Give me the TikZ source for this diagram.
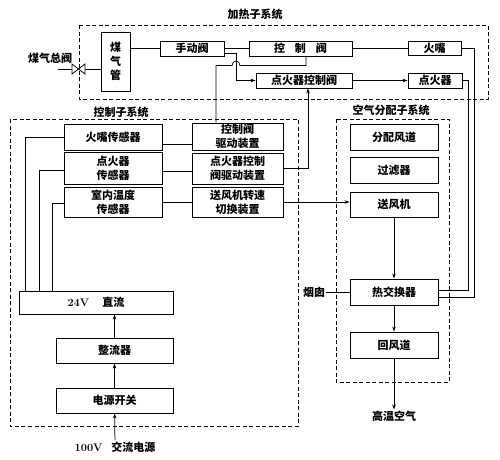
\documentclass[tikz,border=0pt]{standalone}
\usepackage{fontspec}
\newfontfamily\cjk{Noto Sans CJK SC}
\usetikzlibrary{arrows.meta}

\begin{document}
\begin{tikzpicture}[x=1pt,y=-1pt,
	box/.style={draw,line width=0.9pt,inner sep=0pt,align=center,font=\cjk\bfseries\fontsize{11}{14}\selectfont},
	lbl/.style={inner sep=1pt,font=\cjk\bfseries\fontsize{11}{13}\selectfont},
	grp/.style={draw,line width=0.9pt,dash pattern=on 4pt off 2.5pt},
	wire/.style={line width=0.75pt},
	arr/.style={wire,-{Stealth[length=5pt,width=3.5pt]}}]
	\useasboundingbox (0,0) rectangle (500,459);
	% subsystem frames
	\draw[grp] (79,25) rectangle (488,99);
	\draw[grp] (10,119) rectangle (298,426);
	\draw[grp] (336,119) rectangle (449,382);
	\node[lbl] (theat) at (255,14) {加热子系统};
	\node[lbl] (tctrl) at (121,112) {控制子系统};
	\node[lbl] (tair) at (391,110) {空气分配子系统};
	% heating
	\node[box,minimum width=29pt,minimum height=59pt] (gaspipe) at (115.5,61.5) {煤\\气\\管};
	\node[box,minimum width=64pt,minimum height=15pt] (manualv) at (192,48.5) {手动阀};
	\node[box,minimum width=103pt,minimum height=15pt] (ctrlv) at (300.5,48.5) {控\hspace{0.9em}制\hspace{0.9em}阀};
	\node[box,minimum width=53pt,minimum height=14pt] (nozzle) at (434.5,48.5) {火嘴};
	\node[box,minimum width=96pt,minimum height=15pt] (ignv) at (304,80.5) {点火器控制阀};
	\node[box,minimum width=54pt,minimum height=15pt] (igniter) at (435,80.5) {点火器};
	\node[lbl] (mainv) at (50,58) {煤气总阀};
	\coordinate (gasin) at (58,69);
	% control
	\node[box,minimum width=98pt,minimum height=26pt] (snozzle) at (113,137) {火嘴传感器};
	\node[box,minimum width=98pt,minimum height=32pt] (signit) at (113,168) {点火器\\传感器};
	\node[box,minimum width=98pt,minimum height=30pt] (stemp) at (113,202) {室内温度\\传感器};
	\node[box,minimum width=91pt,minimum height=27pt] (dctrl) at (237.5,136.5) {控制阀\\驱动装置};
	\node[box,minimum width=91pt,minimum height=31pt] (dign) at (237.5,168.5) {点火器控制\\阀驱动装置};
	\node[box,minimum width=91pt,minimum height=30pt] (dfan) at (237.5,202) {送风机转速\\切换装置};
	\node[box,minimum width=154pt,minimum height=23pt] (dc24) at (96,302.5) {{\rmfamily 24V}\hspace{1.2em}直流};
	\node[box,minimum width=117pt,minimum height=25pt] (rectif) at (114.5,350.5) {整流器};
	\node[box,minimum width=117pt,minimum height=25pt] (pswitch) at (114.5,400.5) {电源开关};
	\node[lbl] (acsrc) at (115,447) {{\rmfamily 100V}\hspace{0.8em}交流电源};
	% air
	\node[box,minimum width=88pt,minimum height=26pt] (duct) at (394,137) {分配风道};
	\node[box,minimum width=88pt,minimum height=26pt] (filt) at (394,170) {过滤器};
	\node[box,minimum width=88pt,minimum height=25pt] (fan) at (394,204.5) {送风机};
	\node[box,minimum width=88pt,minimum height=26pt] (hx) at (394,292) {热交换器};
	\node[box,minimum width=88pt,minimum height=26pt] (retduct) at (394,345) {回风道};
	\node[lbl] (hotair) at (394,416) {高温空气};
	\node[lbl] (chimney) at (314,292) {烟囱};

	\draw[wire] (gasin) -- (gasin -| gaspipe.west);
	\draw[wire,fill=white] (72,64) -- (85,74) -- (85,64) -- (72,74) -- cycle;
	\draw[wire] (gaspipe.east |- manualv.west) -- (manualv.west);
	\draw[wire] (manualv) -- (ctrlv);
	\draw[wire] (ctrlv) -- (nozzle);
	\draw[arr] ([yshift=-4.5pt]manualv.east) -- ++(12,0) |- (ignv.west);
	\draw[wire] ([xshift=-21.5pt]dctrl.north) -- ++(0,-57) -- ++(16,0) .. controls ++(0,-6) and ++(0,-6) .. ++(8,0) -- ++(66,0) -- ([xshift=5.5pt]ctrlv.south);
	\draw[arr] (dign.east) -| ([xshift=4pt]ignv.south);
	\draw[arr] (ignv) -- (igniter);
	\draw[wire] (nozzle.east) -- ++(13,0) |- ([yshift=-5pt]hx.east);
	\draw[wire] (igniter.east) -- ++(6,0) |- ([yshift=2pt]hx.east);

	\draw[wire] ([yshift=-7pt]snozzle.east) -- ([yshift=-7.5pt]dctrl.west);
	\draw[wire] ([yshift=-3pt]signit.east) -- ([yshift=-2.5pt]dign.west);
	\draw[wire] (stemp) -- (dfan);
	\draw[arr] (dfan.east) -- (dfan.east -| fan.west);
	\draw[wire] (snozzle.west) -| ([xshift=-71pt]dc24.north);
	\draw[wire] ([yshift=-2pt]signit.west) -| ([xshift=-57pt]dc24.north);
	\draw[wire] ([yshift=-1pt]stemp.west) -| ([xshift=-44pt]dc24.north);
	\draw[arr] (rectif.north) -- (rectif.north |- dc24.south);
	\draw[arr] (pswitch) -- (rectif);
	\draw[arr] (acsrc) -- (pswitch);

	\draw[arr] (fan) -- (hx);
	\draw[arr] (hx) -- (retduct);
	\draw[arr] (retduct) -- (hotair);
	\draw[wire] (chimney) -- (hx);
\end{tikzpicture}
\end{document}
